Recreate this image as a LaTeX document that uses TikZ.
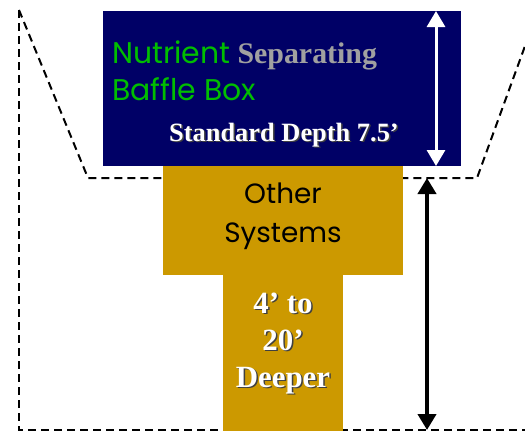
\documentclass[tikz,border=0pt]{standalone}
\usepackage{fontspec}
\setmainfont{Liberation Serif}
\newfontfamily\gothic{Poppins}
\usetikzlibrary{arrows.meta}
\definecolor{boxnavy}{RGB}{0,0,102}
\definecolor{boxgold}{RGB}{204,153,0}
\definecolor{labelgreen}{RGB}{0,190,0}
\definecolor{labelgray}{RGB}{160,160,160}
\newcommand{\shadowed}[1]{\makebox[0pt][l]{\hspace{1.5bp}\raisebox{-1.5bp}{\color{black!75}#1}}#1}
\tikzset{
  outline/.style={line width=2bp,dash pattern=on 8bp off 5bp},
  block/.style={inner sep=0pt,outer sep=0pt},
  depth/.style={{Triangle[length=16bp,width=18bp]}-{Triangle[length=16bp,width=18bp]}},
}

\begin{document}
\begin{tikzpicture}[x=1bp,y=1bp]
    \useasboundingbox (0,0) rectangle (525,432);
    % pit outline
    \draw[outline] (19,422) -- (19,2) -- (525,2);
    \draw[outline] (19,422) -- (88,254) -- (477,254) -- (525,386);
    % boxes
    \node[block,fill=boxnavy,minimum width=358bp,minimum height=155bp] (baffle) at (282,343.5) {};
    \node[block,fill=boxgold,minimum width=240bp,minimum height=109bp] (other) at (283,211.5) {};
    \node[block,fill=boxgold,minimum width=120bp,minimum height=156bp] (deeper) at (283,79) {};
    % labels
    \node[block,anchor=base west] (name1) at (112,369) {\fontsize{30}{32}\selectfont{\gothic\color{labelgreen}Nutrient} {\bfseries\fontsize{30}{32}\selectfont\color{labelgray}Separating}};
    \node[block,anchor=base west] (name2) at (112,332) {\fontsize{30}{32}\selectfont\gothic\color{labelgreen}Baffle Box};
    \node[block,anchor=base] (std) at (284,291) {\fontsize{26.5}{30}\selectfont\bfseries\color{white}\shadowed{Standard Depth 7.5’}};
    \node[block,anchor=base] (oth1) at (283,229) {\fontsize{28}{30}\selectfont\gothic Other};
    \node[block,anchor=base] (oth2) at (283,190) {\fontsize{28}{30}\selectfont\gothic Systems};
    \node[block,anchor=base] (dp1) at (283,119) {\fontsize{31}{34}\selectfont\bfseries\color{white}\shadowed{4’ to}};
    \node[block,anchor=base] (dp2) at (283,82) {\fontsize{31}{34}\selectfont\bfseries\color{white}\shadowed{20’}};
    \node[block,anchor=base] (dp3) at (283,45) {\fontsize{31}{34}\selectfont\bfseries\color{white}\shadowed{Deeper}};
    % depth arrows
    \coordinate (wtop) at (436,421);
    \coordinate (wbot) at (436,266);
    \coordinate (btop) at (427,254);
    \coordinate (bbot) at (427,2);
    \draw[depth,white,line width=3bp] (wtop) -- (wbot);
    \draw[depth,black,line width=4bp] (btop) -- (bbot);
\end{tikzpicture}
\end{document}
